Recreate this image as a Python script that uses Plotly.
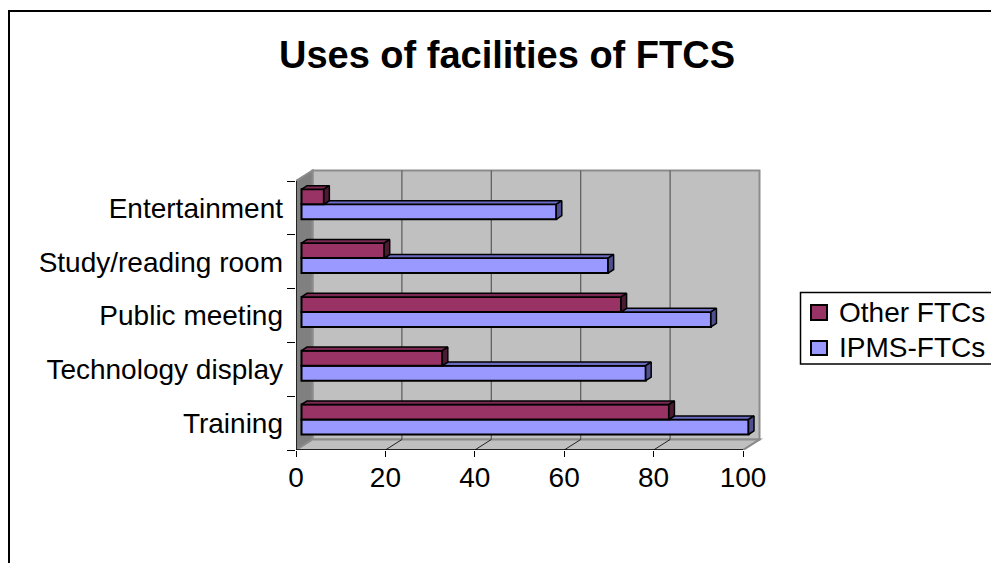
import plotly.graph_objects as go

categories = ["Training", "Technology display", "Public meeting", "Study/reading room", "Entertainment"]
ipms_values = [100, 77, 91.6, 68.6, 57]
other_values = [82.2, 31.5, 71.5, 18.5, 5]
x_ticks = [0, 20, 40, 60, 80, 100]

W, H = 991, 563
X0_PX, X100_PX = 296, 743          # front plane of the value axis
Y_BOTTOM_PX, Y_TOP_PX = 450, 181   # front plane of the category axis
PLOT_RIGHT_PX, PLOT_TOP_PX = 772, 160
PX_X = (X100_PX - X0_PX) / 100
PX_Y = (Y_BOTTOM_PX - Y_TOP_PX) / len(categories)
WALL_DX, WALL_DY = 16.5 / PX_X, 10.5 / PX_Y
BAR_DX, BAR_DY = 5.5 / PX_X, 3.6 / PX_Y
BAR_H = 15 / PX_Y

BLUE, BLUE_TOP, BLUE_SIDE = "#9999FF", "#6B6BC4", "#4F4F8F"
RED, RED_TOP, RED_SIDE = "#993366", "#7A2952", "#4D1A33"
WALL, WALL_LEFT, WALL_EDGE = "#C0C0C0", "#808080", "#8C8C8C"
FONT = "Liberation Sans"
FS = 28

y_lo = -0.5
y_hi = y_lo + (Y_BOTTOM_PX - PLOT_TOP_PX) / PX_Y
x_hi = (PLOT_RIGHT_PX - X0_PX) / PX_X
top = y_lo + len(categories)


def poly(xs, ys, fill, line=WALL_EDGE, width=2):
    return dict(type="path", layer="below", xref="x", yref="y",
                path="M" + " L".join(f"{a},{b}" for a, b in zip(xs, ys)) + " Z",
                fillcolor=fill, line=dict(color=line, width=width))


def paper_rect(x0, y0, x1, y1, fill, width=1.5, layer="above"):
    return dict(type="rect", xref="paper", yref="paper", layer=layer,
                x0=x0 / W, x1=x1 / W, y0=1 - y1 / H, y1=1 - y0 / H,
                line=dict(color="black", width=width), fillcolor=fill)


shapes = [
    poly([WALL_DX, 100 + WALL_DX, 100 + WALL_DX, WALL_DX],
         [y_lo + WALL_DY, y_lo + WALL_DY, top + WALL_DY, top + WALL_DY], WALL),
    poly([0, WALL_DX, WALL_DX, 0],
         [y_lo, y_lo + WALL_DY, top + WALL_DY, top], WALL_LEFT),
    poly([0, 100, 100 + WALL_DX, WALL_DX],
         [y_lo, y_lo, y_lo + WALL_DY, y_lo + WALL_DY], WALL),
]
for t in x_ticks[1:-1]:
    shapes.append(dict(type="line", layer="below", xref="x", yref="y",
                       x0=t + WALL_DX, x1=t + WALL_DX, y0=y_lo + WALL_DY, y1=top + WALL_DY,
                       line=dict(color="#5A5A5A", width=1.2)))
for t in x_ticks[1:-1]:
    shapes.append(dict(type="line", layer="below", xref="x", yref="y",
                       x0=t, x1=t + WALL_DX, y0=y_lo, y1=y_lo + WALL_DY,
                       line=dict(color="#222222", width=1)))
shapes.append(dict(type="line", layer="below", xref="x", yref="y",
                   x0=100, x1=100 + WALL_DX, y0=y_lo, y1=y_lo + WALL_DY,
                   line=dict(color=WALL_EDGE, width=1.5)))

# outer chart frame (its bottom and right edges fall outside the picture)
shapes.append(paper_rect(9, 11, W + 20, H + 20, "white", 2, "below"))

# legend box, running off the right edge as in the reference
legend_names = ["Other FTCs", "IPMS-FTCs"]
legend_colors = [RED, BLUE]
legend_rows = [(305, 320, 312), (341, 355, 347)]
shapes.append(paper_rect(800.5, 292.5, W + 20, 364, "white", 1.5))
annotations = []
for name, color, (y0, y1, yc) in zip(legend_names, legend_colors, legend_rows):
    shapes.append(paper_rect(811, y0, 827, y1, color, 2))
    annotations.append(dict(text=name, xref="paper", yref="paper", x=837 / W, y=1 - yc / H,
                            xanchor="left", yanchor="middle", showarrow=False,
                            font=dict(family=FONT, size=FS, color="black")))

fig = go.Figure()
ypos = list(range(len(categories)))
blue_y = [i + BAR_DY - BAR_H / 2 for i in ypos]
red_y = [i + BAR_DY + BAR_H / 2 for i in ypos]

common = dict(orientation="h", width=BAR_H, base=[BAR_DX] * len(categories), hoverinfo="skip")
fig.add_bar(name="IPMS-FTCs", x=ipms_values, y=blue_y, marker=dict(color=BLUE, line=dict(color="black", width=2)), **common)
fig.add_bar(name="Other FTCs", x=other_values, y=red_y, marker=dict(color=RED, line=dict(color="black", width=2)), **common)


def face(xs, ys, color):
    fig.add_scatter(x=xs, y=ys, mode="lines", fill="toself", fillcolor=color,
                    line=dict(color="black", width=1.5), showlegend=False, hoverinfo="skip")


for i in ypos:
    b = ipms_values[i] + BAR_DX
    r = other_values[i] + BAR_DX
    yb = blue_y[i] + BAR_H / 2
    # blue top face is hidden behind the red bar up to the red bar's end
    face([r, r + BAR_DX, b + BAR_DX, b, r], [yb, yb + BAR_DY, yb + BAR_DY, yb, yb], BLUE_TOP)
    face([b, b + BAR_DX, b + BAR_DX, b, b],
         [yb, yb + BAR_DY, yb - BAR_H + BAR_DY, yb - BAR_H, yb], BLUE_SIDE)
    yr = red_y[i] + BAR_H / 2
    face([BAR_DX, 2 * BAR_DX, r + BAR_DX, r, BAR_DX], [yr, yr + BAR_DY, yr + BAR_DY, yr, yr], RED_TOP)
    face([r, r + BAR_DX, r + BAR_DX, r, r],
         [yr, yr + BAR_DY, yr - BAR_H + BAR_DY, yr - BAR_H, yr], RED_SIDE)

# axis lines on the front plane
fig.add_scatter(x=[0, 100], y=[y_lo, y_lo], mode="lines", line=dict(color="black", width=1.5),
                showlegend=False, hoverinfo="skip", cliponaxis=False)
fig.add_scatter(x=[0, 0], y=[y_lo, top], mode="lines", line=dict(color="black", width=1.5),
                showlegend=False, hoverinfo="skip", cliponaxis=False)

fig.update_layout(
    width=W, height=H, autosize=False, showlegend=False,
    margin=dict(l=0, r=0, t=0, b=0, autoexpand=False),
    paper_bgcolor="white", plot_bgcolor="rgba(0,0,0,0)",
    font=dict(family=FONT, size=FS, color="black"),
    shapes=shapes, annotations=annotations,
    title=dict(text="<b>Uses of facilities of FTCS</b>", font=dict(family=FONT, size=38, color="black"),
               x=507 / W, xanchor="center", y=1 - 55 / H, yanchor="middle"),
    xaxis=dict(domain=[X0_PX / W, PLOT_RIGHT_PX / W], range=[0, x_hi], tickvals=x_ticks,
               ticks="outside", ticklen=6, tickcolor="black", showgrid=False, zeroline=False,
               showline=False, tickfont=dict(family=FONT, size=FS), anchor="y", automargin=False,
               ticklabelstandoff=-4),
    yaxis=dict(domain=[1 - Y_BOTTOM_PX / H, 1 - PLOT_TOP_PX / H], range=[y_lo, y_hi],
               tickvals=ypos, ticktext=categories, ticks="", showgrid=False, zeroline=False,
               showline=False, tickfont=dict(family=FONT, size=FS), anchor="x", ticklabelstandoff=12,
               automargin=False,
               minor=dict(tickvals=[i - 0.5 for i in range(len(categories) + 1)], ticks="outside",
                          ticklen=8, tickcolor="black", showgrid=False)),
)

fig.write_html("out.html", config={"displayModeBar": False},
               post_script="document.body.style.margin='0';document.body.style.overflow='hidden';")
